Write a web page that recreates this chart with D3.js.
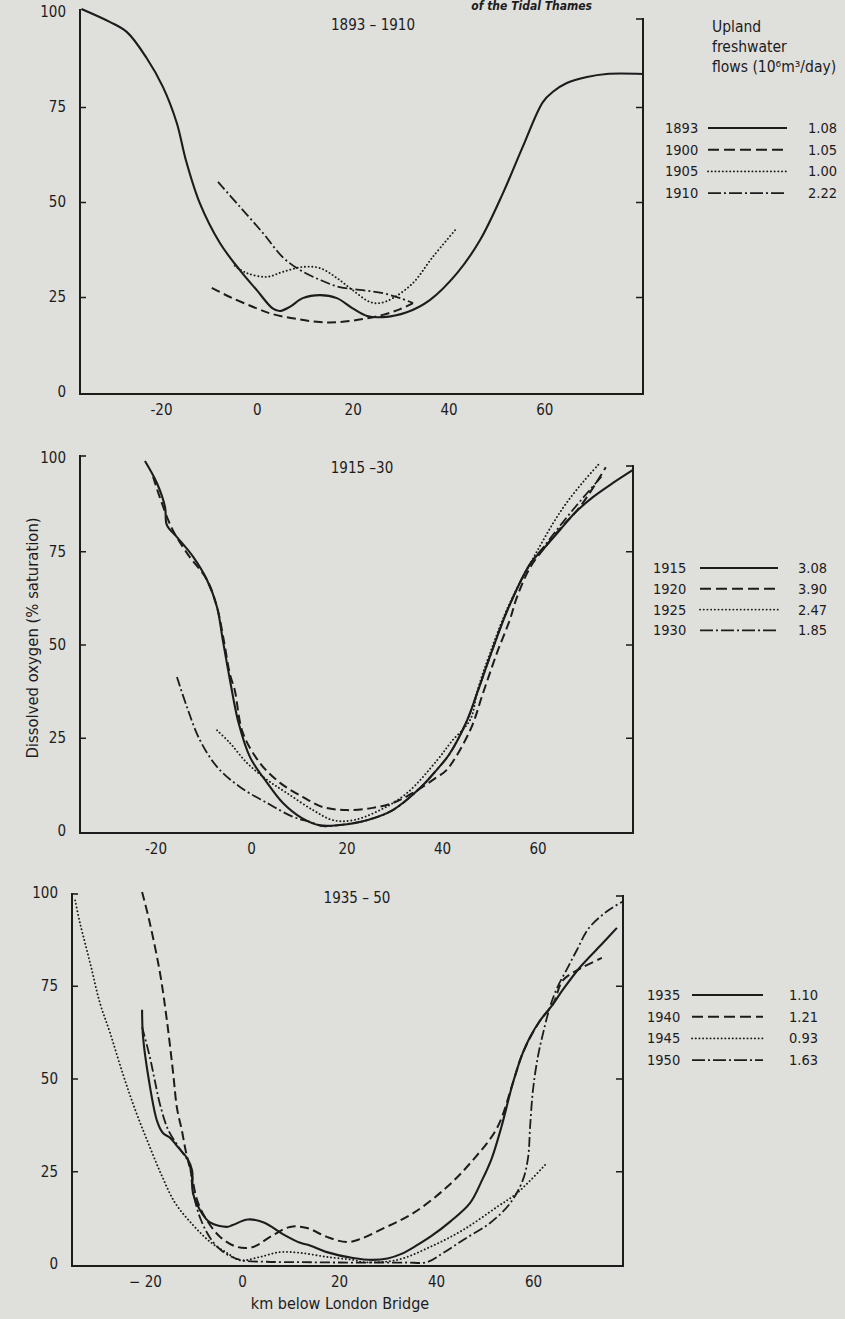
<!DOCTYPE html>
<html><head><meta charset="utf-8">
<script src="https://cdn.jsdelivr.net/npm/d3@7"></script>
<style>
html,body{margin:0;padding:0;background:#dfdfdc;}
svg{display:block;}
text{font-family:"DejaVu Sans Condensed","DejaVu Sans",sans-serif;font-stretch:condensed;fill:#1c1c1c;}
</style></head><body>
<svg id="chart" width="845" height="1319"></svg>
<script>
// ---------------- data ----------------
const xTickValues = [-20, 0, 20, 40, 60];
const yTickValues = [0, 25, 50, 75, 100];
const yAxisLabel = "Dissolved oxygen (% saturation)";
const xAxisLabel = "km below London Bridge";
const legendHeader = ["Upland", "freshwater", "flows (10\u2076m\u00b3/day)"];
const panelTitles = ["1893 \u2013 1910", "1915 \u201330", "1935 \u2013 50"];
const runningHead = "of the Tidal Thames";

const years1 = ["1893", "1900", "1905", "1910"];
const flows1 = ["1.08", "1.05", "1.00", "2.22"];
const years2 = ["1915", "1920", "1925", "1930"];
const flows2 = ["3.08", "3.90", "2.47", "1.85"];
const years3 = ["1935", "1940", "1945", "1950"];
const flows3 = ["1.10", "1.21", "0.93", "1.63"];

// [km below London Bridge, dissolved oxygen % saturation]
const do1893 = [[-36.6,100.8],[-30.7,97.4],[-27.1,94.7],[-23,87.9],[-19.6,80.3],[-16.7,70.8],[-14.8,61],[-11.9,49.7],[-7.7,39.2],[-3.5,32],[0,26.8],[3.3,22],[4.8,21.3],[6.9,22.4],[9.6,24.7],[13.2,25.5],[16.7,24.7],[20,22],[23,20],[26.3,19.7],[31.3,21],[36.1,24.2],[41.8,31.3],[46.6,40],[51.4,52.4],[55.5,64.5],[59.7,76.3],[61.8,79],[64.7,81.3],[68.9,82.9],[73,83.7],[80.6,83.7]];
const do1900 = [[-9.4,27.4],[-5.6,25],[0,22],[3.3,20.5],[8.4,19.2],[13.2,18.4],[17.3,18.4],[22.1,19.2],[26.3,20.3],[29.9,21.8],[32.6,23.4]];
const do1905 = [[-4.6,33.2],[-2.1,31.3],[2.1,30.3],[5.4,31.6],[9.6,32.9],[13.2,32.6],[16.7,30],[20,26.8],[23.6,23.7],[25.7,23.4],[28.4,24.7],[32.6,28.7],[36.7,35.5],[41.8,43.2]];
const do1910 = [[-8.1,55.3],[-3.5,48.7],[1.3,41.8],[5.4,35.5],[9,32.1],[13.2,29.5],[17.3,27.6],[22.1,26.8],[26.3,26],[29.9,24.7],[32.6,23.4]];

const do1915 = [[-22.2,99.2],[-19.7,93.3],[-18,86.9],[-17.6,82],[-15.5,78.8],[-12.1,73.5],[-9.2,67.3],[-7.1,60],[-5.9,51.2],[-4.4,40.5],[-2.6,29],[-0.2,19.8],[3.4,12.9],[6.7,7.5],[10.5,3.6],[14.5,1.5],[18.6,1.6],[24.3,2.9],[29.7,5.6],[35.4,11.5],[38.9,16.4],[41.5,20.5],[45.2,29.5],[47.5,37.5],[50,46.6],[53.8,59.5],[58.4,71.5],[61.5,76],[64.7,80.7],[68,85.5],[71.6,89.5],[75.8,93.3],[80,96.8]];
const do1920 = [[-20.5,95],[-19.1,89.5],[-16.5,81],[-13.4,74.5],[-9.2,67.3],[-7.1,60],[-5.7,51.2],[-4.4,42],[-3.4,37.8],[-1.7,26.3],[1.9,18.2],[6.1,12.9],[10.9,9.1],[15.1,6.4],[20.1,5.6],[25.5,6.2],[29.7,7.5],[33.9,10.2],[39,14.5],[41,16.4],[45.9,27],[48.6,37],[51.5,47.7],[54.2,56.6],[55.7,62.7],[58.4,70.5],[61.5,76],[64.7,81],[68.9,86.9],[74.3,97.5]];
const do1925 = [[-7.1,27],[-4.4,23.6],[-0.8,18.2],[3.4,13.7],[7.5,10.2],[13,5.6],[17.2,2.9],[21.4,2.9],[27,5.6],[32.7,10.2],[39,19],[42,24],[45.9,29.8],[47.5,38],[50,47.5],[53.8,60],[58.4,71.5],[61,77.5],[63.5,83],[66.1,88],[69.5,93.5],[73.1,98.7]];
const do1930 = [[-15.5,41.3],[-13.4,33.2],[-10.7,24.4],[-7.1,17.2],[-2.3,11.8],[3.4,7.5],[8.8,3.8],[12.4,2.4],[15.1,1.3],[18.6,1.6],[24.3,2.9],[29.7,5.6],[35.4,11.5],[38.9,16.4],[41.5,20.5],[45.2,29.5],[47.5,37.5],[50,46.6],[53.8,59.5],[58.4,71.5],[61.5,76.5],[64.7,81.8],[68,87],[71,91.5],[73.7,95.5]];

const do1935 = [[-20.6,68.5],[-20.4,61.2],[-19.2,49.6],[-17.5,38.5],[-16.3,35.3],[-14.8,34],[-13.2,31.5],[-11.3,28.5],[-10.3,25.3],[-10.1,19],[-8.7,14.6],[-6.6,11.2],[-3.1,10],[-1.9,10.5],[1.2,12],[4.5,11.2],[8.5,8],[12,5.7],[14,5],[17.5,3.2],[22.9,1.6],[27,1.1],[30,1.5],[33,2.8],[36,5],[39,7.5],[43,11.5],[47,16.4],[49.5,22.6],[51.5,28.5],[53.5,37],[55.9,49],[57.9,56.9],[59.4,61.2],[61.4,65.5],[64.1,70],[66.2,74],[69.7,80],[74.4,86.5],[77.3,90.6]];
const do1940 = [[-20.6,100.3],[-19,91.9],[-16.9,78.4],[-15.5,65.8],[-14.2,51.5],[-13.4,42],[-12.4,36],[-11.6,30.5],[-10.4,24],[-9.2,17],[-7.3,11.9],[-4.5,7.3],[-1,4.6],[2.3,4.6],[5.8,7.3],[9.9,10],[13.4,9.7],[17.5,7.3],[21.6,5.9],[24.3,6.7],[28.5,9.2],[35.3,13.7],[42.3,20.8],[47.6,28],[52.6,36.7],[55.9,49],[57.9,56.9],[61.4,65.5],[64.1,70],[66.2,76.5],[70,79.8],[74.2,82.5]];
const do1945 = [[-34.4,98],[-33.4,91.9],[-31.3,81.1],[-29.3,70.4],[-27.2,62.3],[-24.5,51],[-22,41.5],[-19.3,32.5],[-16.6,24],[-13.8,16.5],[-10.1,10.5],[-6.6,6],[-3.1,3],[-0.4,1],[3.7,1.9],[7.8,3.2],[12,3],[17.5,1.9],[22.9,1.1],[25,0.5],[32,1.1],[38.8,4.6],[45.6,9.2],[52.6,15.4],[56.7,19.1],[62.5,26.7]];
const do1950 = [[-20.6,63.9],[-19,55.8],[-18,49.6],[-16.9,43],[-15.2,36.1],[-12.8,31],[-10.9,27],[-10.1,19.5],[-8.5,12],[-6,6],[-3,2.5],[0,1],[5,0.6],[12,0.5],[20,0.4],[28,0.4],[34,0.4],[38.1,0.5],[41.5,3],[45.6,6.5],[51.1,11],[55.3,16.4],[57.9,22.6],[59,28.8],[59.4,36.9],[60,46.9],[61,55.8],[62.1,62.3],[63.5,69.3],[65,74.5],[67,79.5],[69,84.5],[71.5,90.5],[75.2,95],[78.5,97.7]];

// ---------------- styles ----------------
const ink = "#1c1c1c";
const fontStack = '"DejaVu Sans Condensed","DejaVu Sans",sans-serif';
const lineStyles = [
  {dash: null, legendDash: null, width: 2.1, cap: "butt"},
  {dash: "9,4.5", legendDash: "11,5", width: 2, cap: "butt"},
  {dash: "0.1,3.6", legendDash: "0.1,3.6", width: 1.9, cap: "round"},
  {dash: "10,3,2,3", legendDash: "13,3,2,3", width: 1.8, cap: "butt"}
];

// ---------------- layout ----------------
const panels = [
  {title: panelTitles[0], titlePos: [373, 25], xDomain: [-36.9, 80.6], xRange: [80, 643], yRange: [392, 12],
   leftTop: 9, rightTop: 18, bottom: 394, leftTopTick: false, minus: "-",
   series: [do1893, do1900, do1905, do1910], years: years1, flows: flows1,
   legend: {yearX: 665, lineX: [708, 787], valX: 837, y0: 128, dy: 21.7}},
  {title: panelTitles[1], titlePos: [362, 468], xDomain: [-35.8, 80], xRange: [80, 633], yRange: [831, 458],
   leftTop: 455, rightTop: 465, bottom: 833, leftTopTick: true, minus: "-",
   series: [do1915, do1920, do1925, do1930], years: years2, flows: flows2,
   legend: {yearX: 653, lineX: [700, 778], valX: 827, y0: 568, dy: 20.8}},
  {title: panelTitles[2], titlePos: [357, 898], xDomain: [-35.05, 78.56], xRange: [72, 623], yRange: [1264, 893],
   leftTop: 893, rightTop: 895, bottom: 1266, leftTopTick: true, minus: "\u2212 ",
   series: [do1935, do1940, do1945, do1950], years: years3, flows: flows3,
   legend: {yearX: 647, lineX: [692, 763], valX: 818, y0: 995, dy: 21.7}}
];

const svg = d3.select("#chart");
svg.append("rect").attr("width", 845).attr("height", 1319).attr("fill", "#dfdfdc");

// running head (cropped at the top of the page in the original)
svg.append("text").attr("x", 592).attr("y", 10).attr("text-anchor", "end")
  .style("font-style", "italic").style("font-weight", "bold").style("font-size", "12px")
  .text(runningHead);

panels.forEach((p, pi) => {
  const g = svg.append("g");
  const x = d3.scaleLinear().domain(p.xDomain).range(p.xRange);
  const y = d3.scaleLinear().domain([0, 100]).range(p.yRange);
  const xl = p.xRange[0], xr = p.xRange[1];

  // frame: left, bottom, right
  g.append("path")
    .attr("d", `M${xl},${p.leftTop}V${p.bottom}H${xr}V${p.rightTop}`)
    .attr("fill", "none").attr("stroke", ink).attr("stroke-width", 2);
  g.append("line").attr("x1", xr).attr("x2", xr - 7).attr("y1", p.rightTop + 1).attr("y2", p.rightTop + 1)
    .attr("stroke", ink).attr("stroke-width", 1.6);
  if (p.leftTopTick) {
    g.append("line").attr("x1", xl).attr("x2", xl + 6).attr("y1", p.leftTop + 1).attr("y2", p.leftTop + 1)
      .attr("stroke", ink).attr("stroke-width", 1.6);
  }

  // left axis (labels + inward ticks)
  const ya = g.append("g").attr("transform", `translate(${xl},0)`)
    .call(d3.axisLeft(y).tickValues(yTickValues).tickSize(-6).tickSizeOuter(0).tickPadding(14));
  ya.select(".domain").remove();
  ya.selectAll("line").attr("stroke", ink).attr("stroke-width", 1.5)
    .filter(d => d === 0 || d === 100).remove();
  ya.selectAll("text").style("font-size", "15px").attr("fill", ink).style("font-family", fontStack);

  // right axis ticks
  const yr = g.append("g").attr("transform", `translate(${xr},0)`)
    .call(d3.axisRight(y).tickValues([25, 50, 75]).tickSize(-7).tickFormat(""));
  yr.select(".domain").remove();
  yr.selectAll("line").attr("stroke", ink).attr("stroke-width", 1.5);

  // bottom axis labels
  const xa = g.append("g").attr("transform", `translate(0,${p.bottom})`)
    .call(d3.axisBottom(x).tickValues(xTickValues).tickSize(0).tickPadding(10)
      .tickFormat(d => d < 0 ? p.minus + Math.abs(d) : String(d)));
  xa.select(".domain").remove();
  xa.selectAll("text").style("font-size", "15px").attr("fill", ink).style("font-family", fontStack);

  // title
  g.append("text").attr("x", p.titlePos[0]).attr("y", p.titlePos[1]).attr("dy", "0.35em")
    .attr("text-anchor", "middle").style("font-size", "15px").text(p.title);

  // curves
  const line = d3.line().x(d => x(d[0])).y(d => y(d[1])).curve(d3.curveCatmullRom.alpha(0.5));
  p.series.forEach((s, i) => {
    const st = lineStyles[i];
    g.append("path").datum(s).attr("d", line)
      .attr("fill", "none").attr("stroke", ink).attr("stroke-width", st.width)
      .attr("stroke-linecap", st.cap).attr("stroke-linejoin", "round")
      .attr("stroke-dasharray", st.dash);
  });

  // legend
  const L = p.legend;
  p.years.forEach((yr_, i) => {
    const cy = L.y0 + i * L.dy;
    const st = lineStyles[i];
    g.append("text").attr("x", L.yearX).attr("y", cy).attr("dy", "0.35em")
      .style("font-size", "14.5px").text(yr_);
    g.append("line").attr("x1", L.lineX[0]).attr("x2", L.lineX[1]).attr("y1", cy).attr("y2", cy)
      .attr("stroke", ink).attr("stroke-width", st.width).attr("stroke-linecap", st.cap)
      .attr("stroke-dasharray", st.legendDash);
    g.append("text").attr("x", L.valX).attr("y", cy).attr("dy", "0.35em").attr("text-anchor", "end")
      .style("font-size", "14.5px").text(p.flows[i]);
  });

  if (pi === 0) {
    legendHeader.forEach((t, i) => {
      g.append("text").attr("x", 712).attr("y", 27 + i * 20).attr("dy", "0.35em")
        .style("font-size", "15.5px").text(t);
    });
  }
  if (pi === 1) {
    svg.append("text").attr("transform", "translate(32,638) rotate(-90)").attr("dy", "0.35em")
      .attr("text-anchor", "middle").style("font-size", "16.5px").text(yAxisLabel);
  }
  if (pi === 2) {
    svg.append("text").attr("x", 340).attr("y", 1303).attr("dy", "0.35em")
      .attr("text-anchor", "middle").style("font-size", "16px").text(xAxisLabel);
  }
});
</script>
</body></html>
